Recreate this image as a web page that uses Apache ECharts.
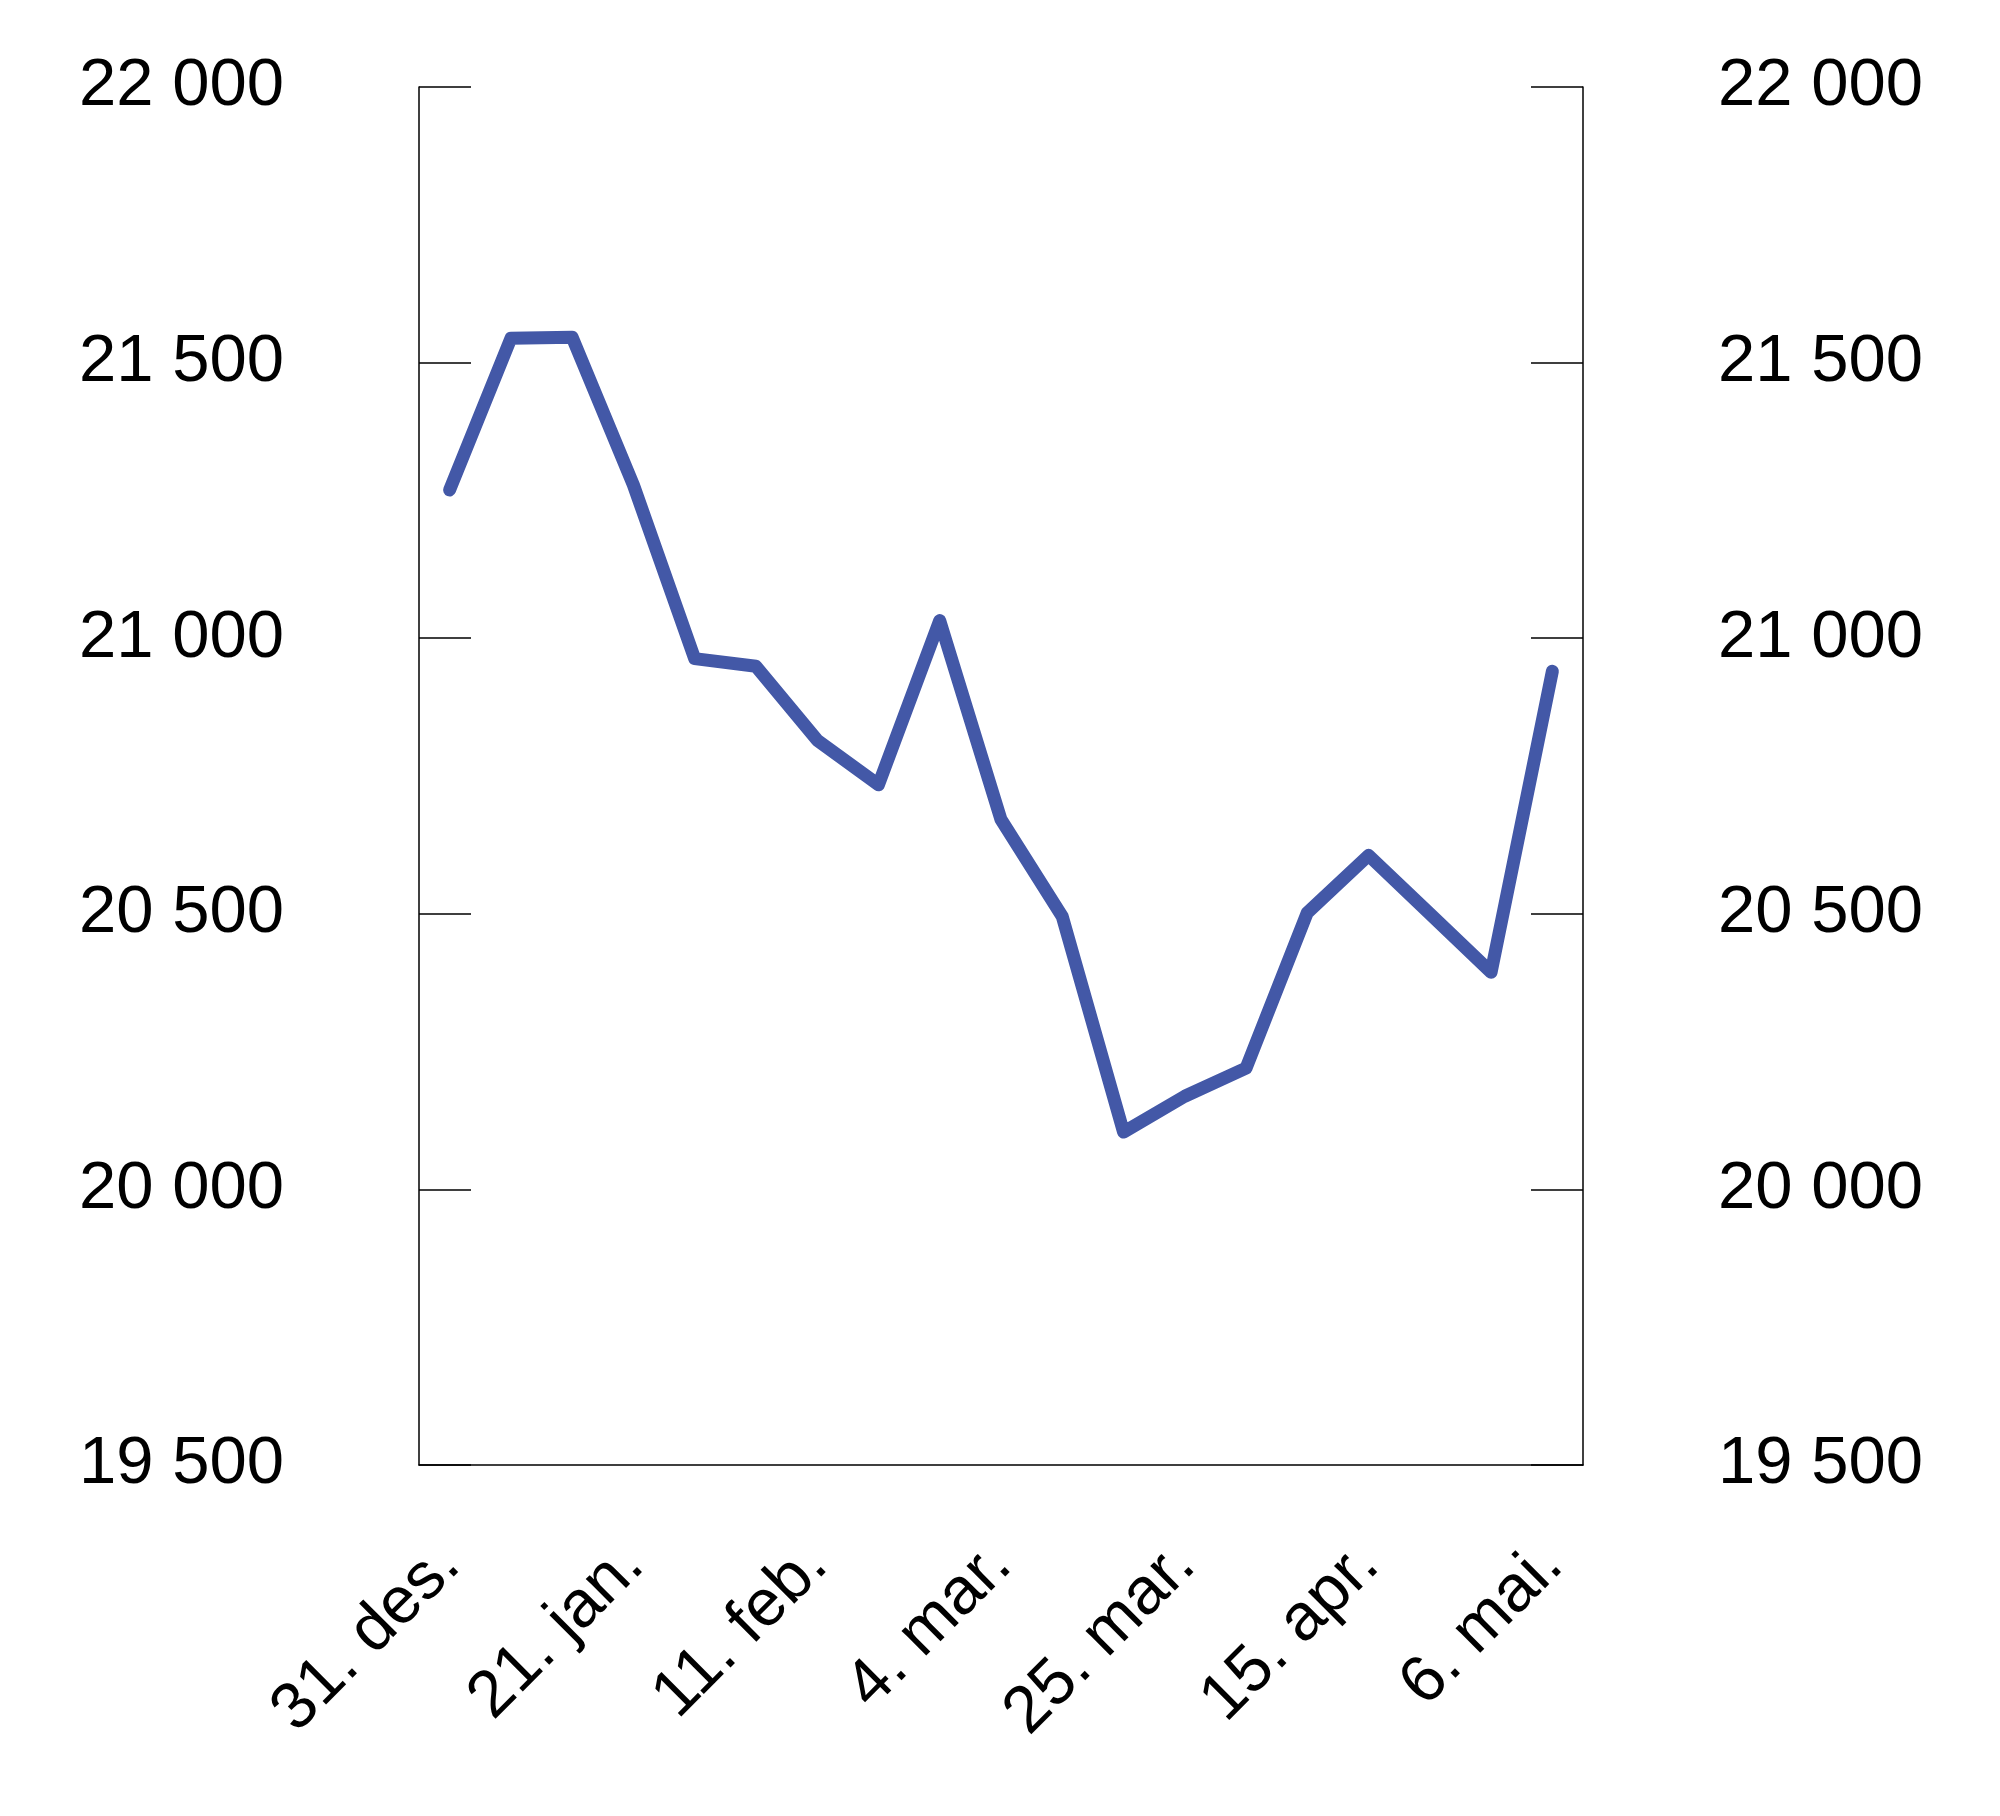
<!DOCTYPE html>
<html><head><meta charset="utf-8">
<script src="https://cdn.jsdelivr.net/npm/echarts@6/dist/echarts.min.js"></script>
<style>html,body{margin:0;padding:0;background:#fff}#chart{width:2000px;height:1816px}</style>
</head><body><div id="chart"></div>
<script>
// ukentlige datoer
var dates = ['31. des.','7. jan.','14. jan.','21. jan.','28. jan.','4. feb.','11. feb.','18. feb.','25. feb.',
	'4. mar.','11. mar.','18. mar.','25. mar.','1. apr.','8. apr.','15. apr.','22. apr.','29. apr.','6. mai.'];
var values = [21269,21544,21546,21278,20963,20949,20815,20734,21032,20671,20495,20104,20169,20220,20502,20606,20500,20394,20940];
var yTicks = {min:19500, max:22000, interval:500};

var fmt = function(v){ return String(v).replace(/\B(?=(\d{3})+(?!\d))/g,' '); };
var yAxisBase = function(pos){
	return {
		type:'value', position:pos, min:yTicks.min, max:yTicks.max, interval:yTicks.interval,
		axisLine:{show:true, lineStyle:{color:'#000', width:1.5}},
		axisTick:{show:true, inside:true, length:52, lineStyle:{color:'#000', width:1.5}},
		splitLine:{show:false},
		axisLabel:{color:'#000', fontSize:67, fontFamily:'Liberation Sans, Arial', margin:135,
			align:'right', formatter:fmt}
	};
};
var chart = echarts.init(document.getElementById('chart'));
var right = yAxisBase('right');
right.axisLabel.margin = 340;
chart.setOption({
	animation:false,
	grid:{left:419, right:417, top:87, bottom:351},
	xAxis:{type:'category', data:dates, boundaryGap:true,
		axisLine:{lineStyle:{color:'#000', width:1.5}},
		axisTick:{show:false},
		axisLabel:{interval:2, rotate:45, color:'#000', fontSize:66, fontFamily:'Liberation Sans, Arial', margin:90}},
	yAxis:[yAxisBase('left'), right],
	series:[{type:'line', data:values, symbol:'none', lineStyle:{color:'#4358a7', width:13, cap:'round', join:'round'}}]
});
</script></body></html>
